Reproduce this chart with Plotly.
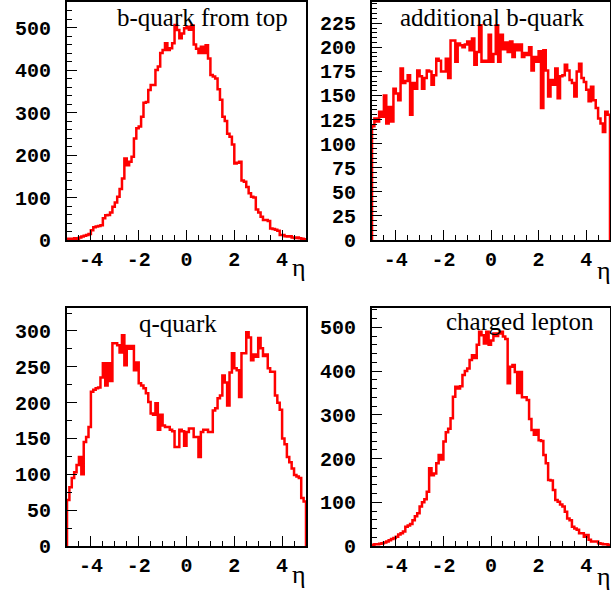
import numpy as np
import plotly.graph_objects as go

# ---------------- data ----------------
eta_min, eta_max, n_bins = -5.0, 5.0, 100

b_from_top = [3, 2, 3, 4, 3, 6, 8, 10, 12, 14,
              23, 30, 32, 33, 35, 51, 58, 59, 65, 78,
              88, 102, 120, 145, 192, 176, 184, 196, 239, 263,
              267, 290, 323, 325, 353, 365, 365, 400, 408, 440,
              447, 463, 447, 451, 463, 506, 494, 475, 486, 498,
              502, 495, 505, 460, 450, 440, 455, 440, 458, 427,
              388, 385, 380, 355, 330, 290, 280, 250, 243, 225,
              180, 182, 184, 140, 137, 125, 110, 102, 100, 72,
              65, 55, 47, 47, 45, 27, 26, 24, 22, 12,
              12, 9, 8, 9, 6, 5, 6, 4, 3, 2]

additional_b = [118, 126, 123, 133, 128, 150, 121, 138, 123, 157,
                152, 145, 178, 163, 165, 171, 130, 163, 157, 176,
                170, 157, 168, 176, 175, 161, 171, 188, 186, 175,
                175, 188, 168, 207, 207, 185, 204, 202, 200, 203,
                206, 197, 209, 182, 195, 223, 185, 186, 185, 213,
                185, 193, 223, 185, 213, 198, 205, 195, 206, 190,
                203, 197, 203, 190, 194, 192, 200, 176, 190, 185,
                196, 137, 197, 176, 149, 166, 161, 178, 147, 170,
                171, 182, 176, 166, 163, 149, 175, 183, 168, 164,
                156, 144, 159, 145, 137, 126, 121, 112, 133, 130]

q_quark = [64, 82, 95, 103, 113, 124, 100, 145, 152, 166,
           215, 218, 220, 221, 235, 255, 224, 255, 230, 283,
           283, 280, 270, 294, 252, 279, 275, 279, 245, 256,
           227, 224, 220, 213, 201, 185, 183, 199, 162, 183,
           168, 166, 166, 162, 160, 138, 138, 162, 160, 140,
           159, 164, 164, 152, 152, 124, 159, 162, 162, 159,
           159, 189, 192, 206, 210, 238, 228, 196, 242, 269,
           248, 245, 208, 269, 269, 298, 291, 259, 267, 264,
           290, 276, 265, 267, 248, 243, 243, 210, 200, 190,
           150, 142, 124, 117, 108, 99, 97, 95, 67, 62]

charged_lepton = [3, 4, 4, 5, 6, 8, 10, 13, 16, 18,
                  21, 26, 29, 33, 44, 47, 50, 59, 68, 75,
                  90, 100, 107, 124, 178, 162, 166, 189, 208, 198,
                  239, 260, 268, 292, 341, 364, 360, 365, 391, 400,
                  406, 425, 436, 430, 460, 490, 482, 463, 490, 460,
                  470, 486, 480, 486, 490, 479, 473, 372, 410, 414,
                  398, 350, 398, 340, 340, 334, 290, 265, 254, 265,
                  242, 240, 208, 189, 151, 150, 128, 105, 101, 95,
                  90, 78, 63, 59, 44, 40, 37, 29, 29, 21,
                  25, 14, 10, 10, 10, 6, 5, 4, 4, 3]

titles = ["b-quark from top", "additional b-quark", "q-quark", "charged lepton"]
x_tick_vals = [-4, -2, 0, 2, 4]
x_tick_labels = ["-4", "-2", "0", "2", "4"]
y_ranges = [560, 247, 332, 544]
y_dticks = [100, 25, 50, 100]
y_minor = [20, 5, 25, 20]

# ---------------- layout geometry (pixels) ----------------
W, H = 611, 590
col_x = [(67, 306), (372, 610)]
row_y = [(2, 240), (308, 546)]

def px(x):
    return x / W

def py(y):
    return 1 - y / H

series = [b_from_top, additional_b, q_quark, charged_lepton]
edges = np.linspace(eta_min, eta_max, n_bins + 1)

fig = go.Figure()
annotations = []
for i, vals in enumerate(series):
    r, c = divmod(i, 2)
    xa = "x" if i == 0 else f"x{i+1}"
    ya = "y" if i == 0 else f"y{i+1}"
    v = np.asarray(vals, dtype=float)
    xs = np.concatenate([[edges[0]], edges, [edges[-1]]])
    ys = np.concatenate([[0.0], v, [v[-1]], [0.0]])
    fig.add_trace(go.Scatter(x=xs, y=ys, mode="lines", line=dict(color="#ff0000", width=2.5, shape="hv"),
                             xaxis=xa, yaxis=ya, showlegend=False, hoverinfo="skip", cliponaxis=True))
    x0, x1 = col_x[c]
    y0, y1 = row_y[r]
    axis_common = dict(showline=True, linecolor="black", linewidth=2, mirror=True, showgrid=False,
                       zeroline=False, ticks="inside", tickcolor="black", tickwidth=1, automargin=False,
                       tickfont=dict(family="Liberation Mono", size=20, color="black", weight="bold"))
    xkey = "xaxis" if i == 0 else f"xaxis{i+1}"
    ykey = "yaxis" if i == 0 else f"yaxis{i+1}"
    fig.update_layout({
        xkey: dict(domain=[px(x0), px(x1)], anchor=ya, range=[eta_min, eta_max],
                   tickmode="array", tickvals=x_tick_vals, ticktext=x_tick_labels, ticklen=10,
                   ticklabelstandoff=0,
                   minor=dict(dtick=0.5, tick0=0, ticks="inside", ticklen=5, tickcolor="black", tickwidth=1),
                   **axis_common),
        ykey: dict(domain=[py(y1), py(y0)], anchor=xa, range=[0, y_ranges[i]],
                   tick0=0, dtick=y_dticks[i], ticklen=10, ticklabelstandoff=10,
                   minor=dict(dtick=y_minor[i], tick0=0, ticks="inside", ticklen=5, tickcolor="black", tickwidth=1),
                   **axis_common),
    })

title_pos = [(202, 18), (492, 18), (178, 323), (520, 322)]
for i, t in enumerate(titles):
    annotations.append(dict(text=t, x=px(title_pos[i][0]), y=py(title_pos[i][1]), xref="paper", yref="paper",
                            showarrow=False, xanchor="center", yanchor="middle",
                            font=dict(family="Liberation Serif", size=25, color="black")))
eta_pos = [(299, 268), (604, 270), (299, 574), (604, 576)]
for (ex, ey) in eta_pos:
    annotations.append(dict(text="η", x=px(ex), y=py(ey), xref="paper", yref="paper", showarrow=False,
                            xanchor="center", yanchor="middle",
                            font=dict(family="Liberation Serif", size=26, color="black")))

fig.update_layout(width=W, height=H, margin=dict(l=0, r=0, t=0, b=0),
                  paper_bgcolor="white", plot_bgcolor="white", annotations=annotations)

fig.write_html("out.html", config={"displayModeBar": False},
               post_script="document.body.style.margin='0';document.body.style.padding='0';")
